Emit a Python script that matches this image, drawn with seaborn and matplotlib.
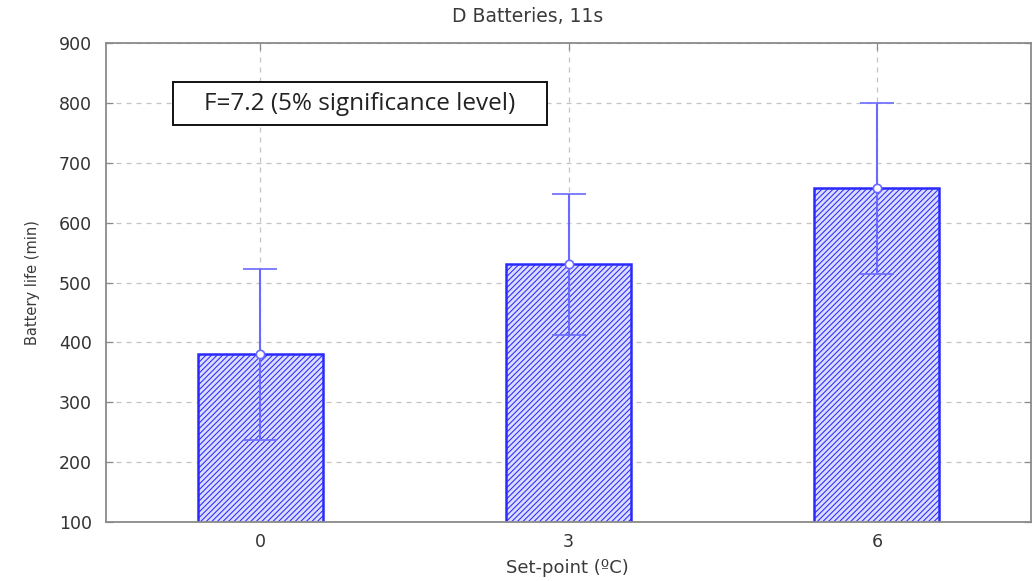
import matplotlib
matplotlib.use("Agg")
import matplotlib.pyplot as plt
from matplotlib.patches import Rectangle
import seaborn as sns
import pandas as pd

# Data
setpoints = ["0", "3", "6"]
battery_life = [380, 531, 657]
err_low = [143, 118, 142]
err_high = [142, 117, 143]

title = "D Batteries, 11s"
xlabel = "Set-point (ºC)"
ylabel = "Battery life (min)"
note = "F=7.2 (5% significance level)"

sns.set_theme(style="white")
plt.rcParams['font.family'] = ['DejaVu Sans']
plt.rcParams['hatch.color'] = '#5a5aff'
plt.rcParams['hatch.linewidth'] = 0.75

W, H = 1033, 581
fig = plt.figure(figsize=(W/100, H/100), dpi=100)
L, R, T, B = 106, 1031, 43, 522
ax = fig.add_axes([L/W, 1 - B/H, (R-L)/W, (B-T)/H])

df = pd.DataFrame({"Set-point": setpoints, "Battery life": battery_life})
sns.barplot(data=df, x="Set-point", y="Battery life", ax=ax, width=0.405,
            color="#dedeff", edgecolor="#2a2aff", linewidth=1.8,
            errorbar=None, saturation=1, zorder=2)
for p in ax.patches:
    p.set_hatch("//////")
    p.set_facecolor("#dcdcff")

xs = list(range(len(setpoints)))
ax.errorbar(xs, battery_life, yerr=[err_low, err_high], fmt='o',
            color="#6a6aff", ecolor="#6a6aff", elinewidth=1.5, capsize=12,
            capthick=1.6, markerfacecolor="white", markeredgecolor="#6a6aff",
            markeredgewidth=1.2, markersize=6, zorder=4)

ax.set_ylim(100, 900)
ax.set_xlim(-0.5, 2.5)
ax.set_yticks(range(100, 901, 100))
ax.grid(True, linestyle=(0, (4, 4)), color="#c4c4c4", linewidth=0.9, zorder=0)
ax.set_axisbelow(True)
for s in ax.spines.values():
    s.set_color("#8a8a8a")
    s.set_linewidth(1.3)
ax.tick_params(axis='both', which='both', direction='in', length=5, width=0.9,
               color="#8a8a8a", labelsize=12.5, labelcolor="#333333",
               left=True, bottom=True, right=True, top=True)
ax.tick_params(axis='y', pad=10)
ax.tick_params(axis='x', pad=8)

ax.set_xlabel(xlabel, fontsize=13, color="#3a3a3a")
ax.xaxis.set_label_coords(0.5 - 1.5/(R-L), -(568 - B)/(B - T))
ax.xaxis.label.set_va("center")
ax.set_ylabel(ylabel, fontsize=10.5, color="#3a3a3a")
ax.yaxis.set_label_coords(-(L - 32)/(R - L), 0.5)
ax.yaxis.label.set_va("center")

fig.text(528/W, 1 - 16/H, title, fontsize=13.5, color="#3a3a3a",
         ha="center", va="center")

fig.patches.append(Rectangle((173/W, 1 - 125/H), (547-173)/W, (125-82)/H,
                             transform=fig.transFigure, facecolor="white",
                             edgecolor="#111111", linewidth=1.4, zorder=5))
fig.text((173+547)/2/W, 1 - 103.5/H, note, fontsize=17.5,
         family=["Open Sans", "DejaVu Sans"], color="#222222",
         ha="center", va="center", zorder=6)

fig.savefig("out.png", dpi=100)
